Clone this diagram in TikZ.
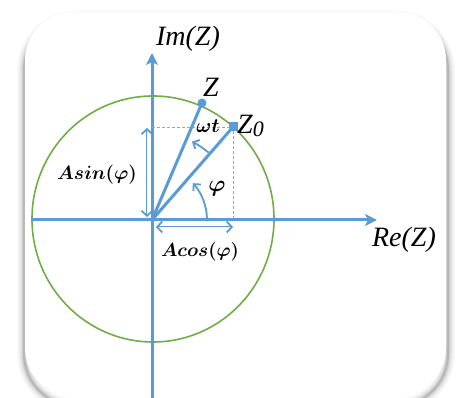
\RequirePackage{fix-cm}
\documentclass[tikz,border=0pt]{standalone}
\usepackage{fontspec}
\setmainfont{Liberation Serif}
\usepackage{amsmath}
\usetikzlibrary{arrows.meta,shapes.geometric}
\definecolor{axblue}{RGB}{91,155,213}
\definecolor{circgreen}{RGB}{112,173,71}
\tikzset{
  axis/.style={axblue,line width=3pt,-{Stealth[length=12pt,width=12pt,inset=3pt]}},
  vec/.style={axblue,line width=3pt},
  guide/.style={axblue!80,line width=0.8pt,dash pattern=on 3pt off 2pt},
  dimouter/.style={axblue,line width=2.4pt,{Straight Barb[length=5pt,width=11pt,line width=1.8pt]}-{Straight Barb[length=5pt,width=11pt,line width=1.8pt]}},
  diminner/.style={white,line width=0.8pt},
  angarr/.style={axblue,line width=1.8pt,-{Straight Barb[length=5pt,width=10pt,line width=1.8pt]}},
  biglbl/.style={font=\fontsize{28}{32}\selectfont\itshape,inner sep=0pt},
  boldlbl/.style={font=\fontsize{22}{26}\selectfont\boldmath,inner sep=0pt},
  smalllbl/.style={font=\fontsize{20}{24}\selectfont\boldmath,inner sep=0pt},
}
\begin{document}
\begin{tikzpicture}[x=1pt,y=1pt]
\useasboundingbox (0,0) rectangle (456,398);
\fill[white] (0,0) rectangle (456,398);
% shadow of the card
\foreach \w/\o in {14/0.03,10/0.04,7/0.06,4/0.08,2/0.10}{
  \draw[black,opacity=\o,line width=\w pt,rounded corners=52pt] (24,-8) rectangle (448,380);
}
\fill[white,rounded corners=48pt] (25,2) rectangle (446,386);
% circle
\draw[circgreen,line width=1.6pt] (153,179) ellipse [x radius=121, y radius=123];
% axes
\coordinate (O) at (152,178);
\coordinate (xl) at (32,178);
\coordinate (xr) at (377,178);
\coordinate (yb) at (152,-2);
\coordinate (yt) at (152,345);
\draw[axis] (xl) -- (xr);
\draw[axis] (yb) -- (yt);
% points
\node[circle,fill=axblue,inner sep=0pt,minimum size=9pt] (Z) at (202,295) {};
\node[rectangle,fill=axblue,inner sep=0pt,minimum size=9pt] (Z0) at (233,271) {};
\coordinate (Zy) at (152,271);
\coordinate (Zx) at (233,178);
\draw[guide] (Zy) -- (Z0.center) -- (Zx);
\draw[vec] (O) -- (Z.center);
\draw[vec] (O) -- (Z0.center);
% dimension arrows
\coordinate (s1) at (147,270);
\coordinate (s2) at (147,181);
\draw[dimouter] (s1) -- (s2);
\draw[diminner,shorten <=3pt,shorten >=3pt] (s1) -- (s2);
\coordinate (c1) at (156,171);
\coordinate (c2) at (233,171);
\draw[dimouter] (c1) -- (c2);
\draw[diminner,shorten <=3pt,shorten >=3pt] (c1) -- (c2);
% angle arcs
\draw[angarr] (O) ++(2:55) arc[start angle=2,end angle=42,radius=55];
\draw[angarr] (O) ++(50:88) arc[start angle=50,end angle=63,radius=88];
% labels
\node[biglbl] (im) at (188,359) {Im(Z)};
\node[biglbl] (re) at (404,158) {Re(Z)};
\node[biglbl] (zl) at (211,311) {Z};
\node[biglbl,anchor=west] (z0l) at (237,272) {Z\raisebox{-3pt}{\fontsize{22}{26}\selectfont 0}};
\node[smalllbl] (wt) at (208,272) {$\omega t$};
\node[smalllbl,font=\fontsize{23}{26}\selectfont\boldmath] (phi) at (217,209) {$\varphi$};
\node[boldlbl] (as) at (97,223) {\scalebox{0.875}{$Asin(\varphi)$}};
\node[boldlbl] (ac) at (200,146) {\scalebox{0.86}{$Acos(\varphi)$}};
\end{tikzpicture}
\end{document}
